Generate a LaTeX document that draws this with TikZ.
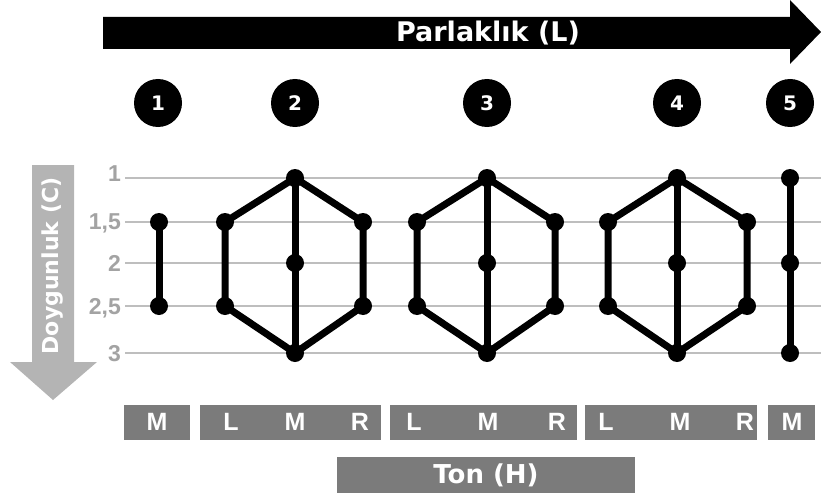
\documentclass[tikz,border=0pt]{standalone}
\usepackage{fontspec}
\setmainfont{Liberation Sans}
\newfontfamily\heavyfont{DejaVu Sans}
\definecolor{gridgray}{HTML}{BEBEBE}
\definecolor{numgray}{HTML}{A3A3A3}
\definecolor{arrowgray}{HTML}{B4B4B4}
\definecolor{boxgray}{HTML}{7B7B7B}

% hexagonal hue network: prefix, x of L, x of M, x of R
\newcommand{\hexnet}[4]{%
  \node[dot] (#1t)  at (#3,178) {};
  \node[dot] (#1ul) at (#2,222) {};
  \node[dot] (#1ll) at (#2,306) {};
  \node[dot] (#1b)  at (#3,353) {};
  \node[dot] (#1lr) at (#4,306) {};
  \node[dot] (#1ur) at (#4,222) {};
  \node[dot] (#1c)  at (#3,263) {};
  \draw[bar] (#1t.center) -- (#1ul.center) -- (#1ll.center) -- (#1b.center)
    -- (#1lr.center) -- (#1ur.center) -- cycle;
  \draw[bar] (#1t.center) -- (#1b.center);
}

\begin{document}
\begin{tikzpicture}[x=1pt,y=-1pt,
  dot/.style={circle,fill=black,minimum size=18pt,inner sep=0pt},
  bar/.style={line width=7pt,line join=round,line cap=round},
  gridline/.style={gridgray,line width=1.5pt},
  numlbl/.style={numgray,anchor=base east,inner sep=0pt,font=\bfseries\fontsize{23}{27}\selectfont},
  badge/.style={circle,fill=black,minimum size=48pt,inner sep=0pt,text=white,
    font=\heavyfont\bfseries\fontsize{20}{24}\selectfont},
  hbox/.style={fill=boxgray,minimum height=35pt,inner sep=0pt},
  hletter/.style={text=white,inner sep=0pt,font=\bfseries\fontsize{25}{30}\selectfont},
  title/.style={text=white,inner sep=0pt,font=\heavyfont\bfseries\fontsize{#1}{#1}\selectfont}]
\useasboundingbox (0,0) rectangle (821,500);

% lightness arrow
\fill[black] (103,17) -- (790,17) -- (790,0) -- (821,32) -- (790,64)
  -- (790,49) -- (103,49) -- cycle;
\node[title=27] (lum) at (488,33) {Parlaklık (L)};

% chroma arrow
\fill[arrowgray] (32,165) -- (74,165) -- (74,362) -- (97,362) -- (53,400)
  -- (10,362) -- (32,362) -- cycle;
\node[title=22,rotate=90] (chroma) at (53,266) {Doygunluk (C)};

% chroma levels
\foreach \nm/\yy/\dy/\lab in {g1/178/3/1, g15/222/7/{1,5}, g2/263/8/2, g25/306/8/{2,5}, g3/353/8/3}{
  \coordinate (\nm s) at (125,\yy);
  \coordinate (\nm e) at (821,\yy);
  \draw[gridline] (\nm s) -- (\nm e);
  \node[numlbl] (\nm lab) at (121,\yy+\dy) {\lab};
}

% numbered badges
\node[badge] (n1) at (158,103) {1};
\node[badge] (n2) at (295,103) {2};
\node[badge] (n3) at (487,103) {3};
\node[badge] (n4) at (677,103) {4};
\node[badge] (n5) at (790,103) {5};

% network 1
\node[dot] (a1) at (159,222) {};
\node[dot] (a2) at (159,306) {};
\draw[bar] (a1.center) -- (a2.center);

% networks 2-4
\hexnet{h2}{225}{295}{363}
\hexnet{h3}{417}{487}{555}
\hexnet{h4}{608}{677}{747}

% network 5
\node[dot] (e1) at (790,178) {};
\node[dot] (e2) at (790,263) {};
\node[dot] (e3) at (790,353) {};
\draw[bar] (e1.center) -- (e3.center);

% hue boxes
\node[hbox,minimum width=66pt]  (b1) at (157,422) {};
\node[hbox,minimum width=181pt] (b2) at (290.5,422) {};
\node[hbox,minimum width=187pt] (b3) at (483.5,422) {};
\node[hbox,minimum width=172pt] (b4) at (671,422) {};
\node[hbox,minimum width=47pt]  (b5) at (791.5,422) {};

\node[hletter] (m1) at (157,422) {M};
\node[hletter] (l2) at (231,422) {L};
\node[hletter] (m2) at (295,422) {M};
\node[hletter] (r2) at (360,422) {R};
\node[hletter] (l3) at (414,422) {L};
\node[hletter] (m3) at (488,422) {M};
\node[hletter] (r3) at (557,422) {R};
\node[hletter] (l4) at (606,422) {L};
\node[hletter] (m4) at (680,422) {M};
\node[hletter] (r4) at (745,422) {R};
\node[hletter] (m5) at (792,422) {M};

\node[hbox,minimum width=298pt,minimum height=36pt] (ton) at (486,475) {};
\node[title=26] (tonlab) at (ton.center) {Ton (H)};
\end{tikzpicture}
\end{document}
